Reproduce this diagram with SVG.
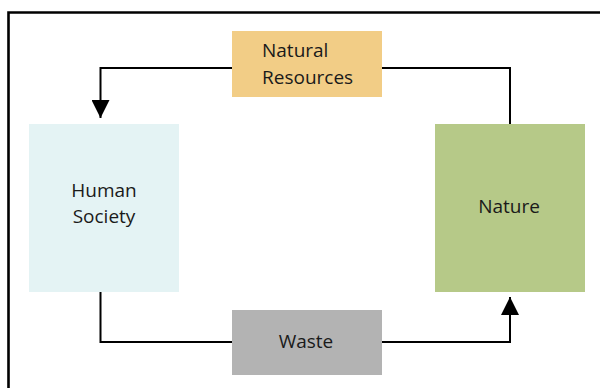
<svg xmlns="http://www.w3.org/2000/svg" width="600" height="388" viewBox="0 0 600 388">
  <style>
    .label { font-family: "Open Sans", "Noto Sans", "Liberation Sans", sans-serif; font-size: 19px; fill: #1a1a1a; }
    .mid { text-anchor: middle; }
    .wire { fill: none; stroke: #000; stroke-width: 2; }
  </style>
  <defs>
    <marker id="arrow" viewBox="0 0 18 18" refX="18" refY="9" markerWidth="18" markerHeight="18" markerUnits="userSpaceOnUse" orient="auto">
      <path d="M0,0 L18,9 L0,18 Z" fill="#000"/>
    </marker>
  </defs>

  <rect width="600" height="388" fill="#fff"/>
  <!-- outer frame -->
  <path d="M8.5,390 V12.5 H604" fill="none" stroke="#000" stroke-width="2.6"/>

  <g id="connectors">
    <path class="wire" d="M232,68 H100.5 V118" marker-end="url(#arrow)"/>
    <path class="wire" d="M510,124 V68 H382"/>
    <path class="wire" d="M100.5,292 V342 H232"/>
    <path class="wire" d="M382,342 H510 V297" marker-end="url(#arrow)"/>
  </g>

  <g id="natural-resources">
    <rect x="232" y="31" width="150" height="66" fill="#f2cd86"/>
    <text class="label" x="262" y="57">Natural</text>
    <text class="label" x="262" y="84">Resources</text>
  </g>

  <g id="human-society">
    <rect x="29" y="124" width="150" height="168" fill="#e4f3f4"/>
    <text class="label mid" x="104" y="197">Human</text>
    <text class="label mid" x="104" y="223">Society</text>
  </g>

  <g id="nature">
    <rect x="435" y="124" width="150" height="168" fill="#b6c988"/>
    <text class="label mid" x="509" y="213">Nature</text>
  </g>

  <g id="waste">
    <rect x="232" y="310" width="150" height="65" fill="#b3b3b3"/>
    <text class="label mid" x="306" y="348">Waste</text>
  </g>
</svg>
